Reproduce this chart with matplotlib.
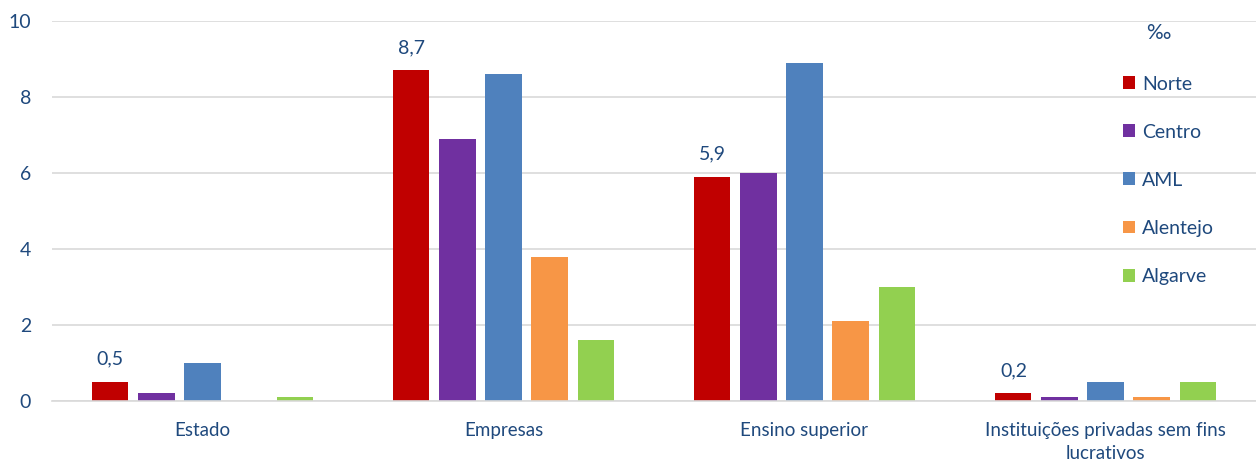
import numpy as np
import matplotlib.pyplot as plt
from matplotlib.patches import Patch

plt.rcParams['font.family'] = ['Lato', 'DejaVu Sans']

categorias = ["Estado", "Empresas", "Ensino superior", "Instituições privadas sem fins\nlucrativos"]
regioes = ["Norte", "Centro", "AML", "Alentejo", "Algarve"]
norte = [0.5, 8.7, 5.9, 0.2]
centro = [0.2, 6.9, 6.0, 0.1]
aml = [1.0, 8.6, 8.9, 0.5]
alentejo = [0.0, 3.8, 2.1, 0.1]
algarve = [0.1, 1.6, 3.0, 0.5]
rotulos_norte = ["0,5", "8,7", "5,9", "0,2"]

cores = ["#C00000", "#7030A0", "#4F81BD", "#F79646", "#92D050"]
texto = "#1F497D"

fig = plt.figure(figsize=(12.56, 4.65), dpi=100)
ax = fig.add_axes([52/1256, 1-401/465, 1-52/1256, (401-21)/465])

x = np.arange(len(categorias))
passo = 0.153
largura = 0.12
series = [norte, centro, aml, alentejo, algarve]
for i, (serie, cor) in enumerate(zip(series, cores)):
    ax.bar(x + (i-2)*passo, serie, width=largura, color=cor, zorder=3)

for k in range(len(categorias)):
    ax.text(x[k] - 2*passo, norte[k] + 0.38, rotulos_norte[k], ha='center', va='bottom',
            fontsize=14, color=texto)

ax.set_xlim(-0.5, 3.5)
ax.set_ylim(0, 10)
ax.set_yticks([0, 2, 4, 6, 8, 10])
ax.set_xticks(x)
ax.set_xticklabels(categorias, fontsize=13.5, color=texto, linespacing=1.45)
ax.tick_params(axis='y', labelsize=14, labelcolor=texto, length=0, pad=15)
ax.tick_params(axis='x', length=0, pad=15)
ax.grid(axis='y', color='#D9D9D9', linewidth=1.2, zorder=0)
for s in ['top', 'right', 'left']:
    ax.spines[s].set_visible(False)
ax.spines['bottom'].set_color('#D9D9D9')
ax.spines['bottom'].set_linewidth(1.2)
ax.spines['bottom'].set_zorder(4)

# legenda com o simbolo de permilagem por cima
handles = [Patch(facecolor=c, label=r) for c, r in zip(cores, regioes)]
leg = fig.legend(handles=handles, loc='upper left', bbox_to_anchor=(1105/1256, 1-58/465),
                 frameon=False, fontsize=14, handlelength=0.65, handleheight=0.65,
                 handletextpad=0.35, labelspacing=1.6)
for t in leg.get_texts():
    t.set_color(texto)
fig.text(1158/1256, 1-33/465, '‰', ha='center', va='center', fontsize=15, color=texto)

fig.savefig('out.png', dpi=100)
